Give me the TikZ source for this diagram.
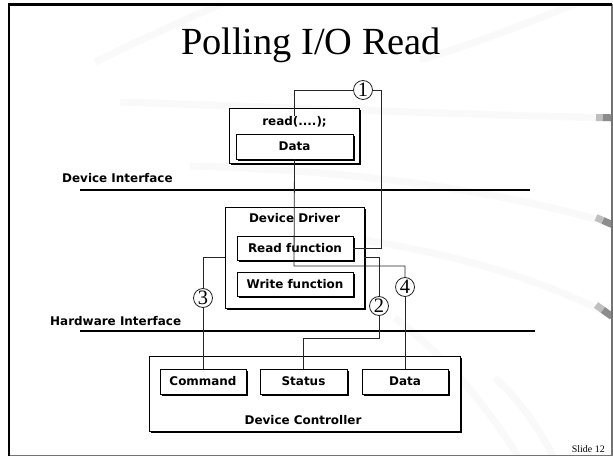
\documentclass[tikz,border=0pt]{standalone}
\usepackage{fontspec}
\setmainfont{Liberation Serif}
\newfontfamily\lblfont{DejaVu Sans}
\usetikzlibrary{shadows,calc}
\begin{document}
\begin{tikzpicture}[x=1bp,y=-1bp,
  lbl/.style={font=\lblfont\bfseries\fontsize{12}{14}\selectfont, inner sep=0pt},
  box/.style={draw=black, line width=0.9bp, fill=white, inner sep=0pt,
    drop shadow={shadow xshift=1.8bp, shadow yshift=-1.8bp, opacity=1, fill=black}},
  wire/.style={draw=black!85, line width=0.8bp},
  iface/.style={line width=2.4bp},
  num/.style={circle, draw=black!85, fill=white, line width=0.8bp, minimum size=19bp,
    inner sep=0pt, font=\fontsize{20.5}{20.5}\selectfont},
  swoosh/.style={draw=black!2.5, line width=7bp},
  tip/.style={line width=7bp},
]
% page
\useasboundingbox (0,0) rectangle (613,457);
\fill[white] (0,0) rectangle (613,457);

% faint template swooshes
\begin{scope}
  \clip (9,4.5) rectangle (612,455);
  \draw[swoosh] (420,60) .. controls (480,42) and (530,22) .. (585,0);
  \draw[swoosh] (95,62) .. controls (140,40) and (180,22) .. (230,0);
  \draw[swoosh] (120,102) .. controls (300,108) and (450,114) .. (612,118);
  \draw[swoosh] (190,166) .. controls (350,170) and (500,190) .. (612,224);
  \draw[swoosh] (240,226) .. controls (400,238) and (520,268) .. (612,316);
  \draw[swoosh] (395,318) .. controls (450,360) and (490,410) .. (520,460);
  \draw[swoosh] (495,378) .. controls (520,400) and (540,430) .. (555,460);
  \draw[tip, black!25] (596,117.5) -- (603,117.6);
  \draw[tip, black!45] (603,117.6) -- (612,117.8);
  \draw[tip, black!25] (596,217.5) -- (603,220.5);
  \draw[tip, black!45] (603,220.5) -- (612,224.5);
  \draw[tip, black!25] (596,305) -- (603,310);
  \draw[tip, black!45] (603,310) -- (612,316.5);
\end{scope}

% title and slide number
\node[anchor=base, font=\fontsize{38.5}{40}\selectfont, inner sep=0pt] (title) at (311,54.5) {Polling I/O Read};
\node[anchor=base east, font=\fontsize{10}{12}\selectfont, inner sep=0pt] (slideno) at (605,452) {Slide 12};

% interface lines
\draw[iface] (80,190) -- (530,190);
\draw[iface] (80,331) -- (535,331);
\node[lbl, anchor=base west] (devif) at (62,183) {Device Interface};
\node[lbl, anchor=base west] (hwif) at (50,325.5) {Hardware Interface};

% application
\node[box, minimum width=130bp, minimum height=55bp] (app) at (294,135.5) {};
\node[lbl] (rdtxt) at (294.5,122) {read(....);};
\node[box, minimum width=117bp, minimum height=25bp] (rdata) at (294.5,146.5) {};
\node[lbl] at (rdata) {Data};

% device driver
\node[box, minimum width=139bp, minimum height=101bp] (driver) at (294.5,257.5) {};
\node[lbl] (drvtxt) at (294.5,218) {Device Driver};
\node[box, minimum width=116bp, minimum height=24bp] (readfn) at (295,248) {};
\node[lbl] at (readfn) {Read function};
\node[box, minimum width=116bp, minimum height=24bp] (writefn) at (295,284) {};
\node[lbl] at (writefn) {Write function};

% device controller
\node[box, minimum width=311bp, minimum height=75bp] (ctrl) at (304.5,393.5) {};
\node[lbl] (ctrltxt) at (303,420) {Device Controller};
\node[box, minimum width=86bp, minimum height=25bp] (cmd) at (203,381.5) {};
\node[lbl] at (cmd) {Command};
\node[box, minimum width=87bp, minimum height=25bp] (status) at (303.5,381.5) {};
\node[lbl] at (status) {Status};
\node[box, minimum width=86bp, minimum height=25bp] (cdata) at (405,381.5) {};
\node[lbl] at (cdata) {Data};

% step markers
\node[num] (c1) at (363,90) {1};
\node[num] (c2) at (379,306) {2};
\node[num] (c3) at (203,298) {3};
\node[num] (c4) at (405,287) {4};

% connectors
\coordinate (k1) at (381,90);
\coordinate (k2) at (379,338);
\coordinate (k4) at (294,266);
\draw[wire] (c1.west) -| (rdtxt.north);
\draw[wire] (c1.east) -- (k1) |- (readfn.east);
\draw[wire] (c2.north) |- (driver.east);
\draw[wire] (c2.south) -- (k2) -| (status.north);
\draw[wire] (driver.west) -| (c3.north);
\draw[wire] (c3.south) -- (cmd.north);
\draw[wire] (rdata.south) -- (k4) -| (c4.north);
\draw[wire] (c4.south) -- (cdata.north);

% slide frame
\draw[black!55, line width=1.3bp] (9,4.5) rectangle (612,455.5);
\draw[black, line width=2.4bp] (9,455.5) -- (9,4.5) -- (612,4.5);
\end{tikzpicture}
\end{document}
